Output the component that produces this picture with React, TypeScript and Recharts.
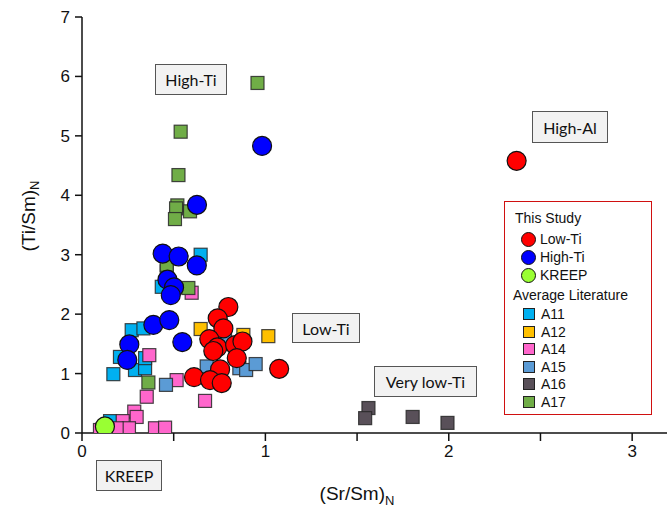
import { ScatterChart, Scatter, XAxis, YAxis } from 'recharts';

// Sr/Sm vs Ti/Sm, chondrite normalised
const lowTi = [
  [0.798, 2.12], [0.74, 1.93], [0.771, 1.76], [0.694, 1.58], [0.738, 1.44], [0.716, 1.38],
  [0.835, 1.48], [0.875, 1.54], [0.844, 1.26], [0.753, 1.07], [0.611, 0.94], [0.698, 0.89],
  [0.762, 0.84], [1.075, 1.08], [2.37, 4.58],
];
const highTi = [
  [0.44, 3.02], [0.527, 2.97], [0.626, 2.82], [0.466, 2.58], [0.502, 2.45], [0.484, 2.32],
  [0.389, 1.82], [0.476, 1.9], [0.547, 1.53], [0.258, 1.49], [0.247, 1.23], [0.627, 3.84],
  [0.982, 4.83],
];
const kreep = [[0.125, 0.11]];

const a11 = [
  [0.647, 3.0], [0.462, 2.72], [0.435, 2.46], [0.271, 1.73], [0.335, 1.76], [0.171, 0.99],
  [0.207, 1.28], [0.289, 1.06], [0.344, 1.09], [0.344, 1.26], [0.153, 0.2],
];
const a12 = [[0.647, 1.75], [1.016, 1.63], [0.88, 1.65], [0.73, 1.05]];
const a14 = [
  [0.598, 2.36], [0.367, 1.31], [0.516, 0.89], [0.353, 0.61], [0.671, 0.54], [0.285, 0.36],
  [0.298, 0.27], [0.222, 0.2], [0.256, 0.08], [0.098, 0.05], [0.398, 0.08], [0.453, 0.09],
  [0.189, 0.08],
];
const a15 = [[0.458, 0.81], [0.68, 1.12], [0.858, 1.09], [0.895, 1.06], [0.947, 1.16], [0.78, 1.62]];
const a16 = [[1.562, 0.42], [1.544, 0.25], [1.803, 0.27], [1.993, 0.17]];
const a17 = [
  [0.957, 5.89], [0.538, 5.07], [0.526, 4.34], [0.52, 3.83], [0.513, 3.78], [0.507, 3.6],
  [0.589, 3.73], [0.462, 2.83], [0.58, 2.44], [0.362, 0.85],
];

const xTicks = [0, 0.5, 1, 1.5, 2, 2.5, 3];
const yTicks = [0, 1, 2, 3, 4, 5, 6, 7];

const toPts = (arr: number[][]) => arr.map(([x, y]) => ({ x, y }));

const font = '"Liberation Sans", Arial, sans-serif';
const boxFont = 'Lato, "Open Sans", sans-serif';

const square = (fill: string) => (p: any) => (
  <rect x={p.cx - 6.5} y={p.cy - 6.5} width={13} height={13} fill={fill} stroke="rgba(40,40,40,0.85)" strokeWidth={1.2} />
);
const dot = (fill: string) => (p: any) => (
  <circle cx={p.cx} cy={p.cy} r={9.5} fill={fill} stroke="#111" strokeWidth={1.2} />
);

const studySeries = [
  { name: 'Low-Ti', data: lowTi, color: '#ff0000' },
  { name: 'High-Ti', data: highTi, color: '#0000ff' },
  { name: 'KREEP', data: kreep, color: '#99ff33' },
];
const litSeries = [
  { name: 'A11', data: a11, color: '#00b0f0' },
  { name: 'A12', data: a12, color: '#ffc000' },
  { name: 'A14', data: a14, color: '#ff66cc' },
  { name: 'A15', data: a15, color: '#5b9bd5' },
  { name: 'A16', data: a16, color: '#595059' },
  { name: 'A17', data: a17, color: '#70ad47' },
];

const boxes = [
  { text: 'High-Ti', left: 155, top: 64, w: 72, h: 31 },
  { text: 'High-Al', left: 532, top: 111, w: 76, h: 32 },
  { text: 'Low-Ti', left: 292, top: 313, w: 68, h: 30 },
  { text: 'Very low-Ti', left: 374, top: 366, w: 103, h: 31 },
  { text: 'KREEP', left: 96, top: 460, w: 66, h: 31 },
];

const YTitle = () => (
  <text x={28} y={216} transform="rotate(-90 28 216)" textAnchor="middle" dominantBaseline="central"
    fontFamily={font} fontSize={19} fill="#111">
    (Ti/Sm)<tspan fontSize={13} dy={6}>N</tspan>
  </text>
);
const XTitle = () => (
  <text x={357} y={500} textAnchor="middle" fontFamily={font} fontSize={19} fill="#111">
    (Sr/Sm)<tspan fontSize={13} dy={5}>N</tspan>
  </text>
);

export default function App() {
  return (
    <div style={{ position: 'absolute', left: 0, top: 0, width: 667, height: 507, background: '#fff' }}>
      <ScatterChart width={667} height={507} margin={{ top: 17, right: 0, bottom: 0, left: 0 }}>
        <XAxis
          type="number"
          dataKey="x"
          domain={[0, 3.19]}
          ticks={xTicks}
          allowDataOverflow
          height={74}
          tickSize={8}
          tickMargin={4}
          tickFormatter={(v: number) => (Number.isInteger(v) ? String(v) : '')}
          stroke="#111"
          strokeWidth={1.5}
          tick={{ fill: '#111', fontSize: 17, fontFamily: font }}
          label={{ content: () => <XTitle /> }}
        />
        <YAxis
          type="number"
          dataKey="y"
          domain={[0, 7]}
          ticks={yTicks}
          allowDataOverflow
          width={82}
          tickSize={7}
          tickMargin={5}
          stroke="#111"
          strokeWidth={1.5}
          tick={{ fill: '#111', fontSize: 17, fontFamily: font }}
          label={{ content: () => <YTitle /> }}
        />
        {litSeries.map((s) => (
          <Scatter key={s.name} name={s.name} data={toPts(s.data)} shape={square(s.color)} isAnimationActive={false} />
        ))}
        {studySeries.map((s) => (
          <Scatter key={s.name} name={s.name} data={toPts(s.data)} shape={dot(s.color)} isAnimationActive={false} />
        ))}
      </ScatterChart>

      {boxes.map((b) => (
        <div key={b.text} style={{
          position: 'absolute', left: b.left, top: b.top, width: b.w, height: b.h, boxSizing: 'border-box',
          background: '#f2f2f2', border: '1.5px solid #555', display: 'flex', alignItems: 'center',
          justifyContent: 'center', fontFamily: boxFont, fontSize: 16, color: '#111',
        }}>{b.text}</div>
      ))}

      <div style={{
        position: 'absolute', left: 504, top: 201, width: 148, height: 214, boxSizing: 'border-box',
        border: '1.5px solid #d01010', background: '#fff', fontFamily: font, fontSize: 14, color: '#111',
      }}>
        <div style={{ position: 'absolute', left: 10, top: 8 }}>This Study</div>
        {studySeries.map((s, i) => (
          <div key={s.name} style={{ position: 'absolute', left: 16, top: 29 + i * 18, display: 'flex', alignItems: 'center' }}>
            <span style={{ width: 13, height: 13, borderRadius: '50%', background: s.color, border: '1px solid #111', marginRight: 4, display: 'inline-block' }} />
            {s.name}
          </div>
        ))}
        <div style={{ position: 'absolute', left: 8, top: 85 }}>Average Literature</div>
        {litSeries.map((s, i) => (
          <div key={s.name} style={{ position: 'absolute', left: 18, top: 104 + i * 17.6, display: 'flex', alignItems: 'center' }}>
            <span style={{ width: 10, height: 10, background: s.color, border: '1px solid #222', marginRight: 6, display: 'inline-block' }} />
            {s.name}
          </div>
        ))}
      </div>
    </div>
  );
}
